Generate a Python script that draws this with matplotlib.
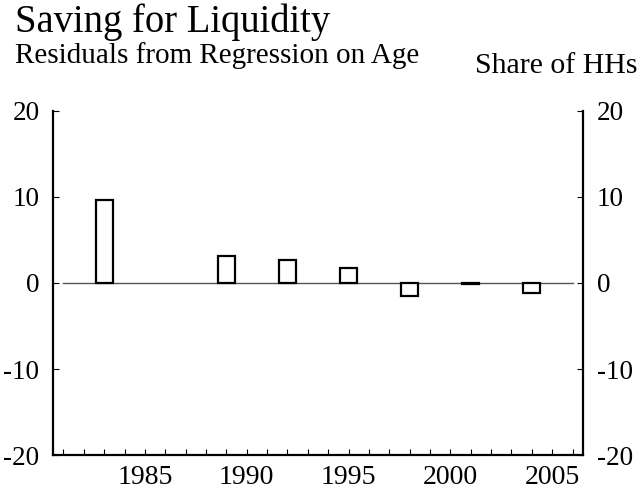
import matplotlib
matplotlib.use('Agg')
import matplotlib.pyplot as plt
from matplotlib.ticker import MultipleLocator

plt.rcParams['font.family'] = ['Liberation Serif', 'DejaVu Serif']

# Residuals by survey year
years = [1983, 1989, 1992, 1995, 1998, 2001, 2004]
resid = [9.6, 3.1, 2.7, 1.7, -1.5, -0.15, -1.2]
yticks = [-20, -10, 0, 10, 20]
xticks = [1985, 1990, 1995, 2000, 2005]

fig = plt.figure(figsize=(6.42, 4.91), dpi=100)
ax = fig.add_axes([0.083, 0.073, 0.8247, 0.7015])

ax.bar(years, resid, width=0.82, facecolor='white', edgecolor='black', linewidth=1.6, zorder=3)
ax.plot([1981, 2006], [0, 0], color='#555555', linewidth=1.0, zorder=2)

ax.set_xlim(1980.5, 2006.5)
ax.set_ylim(-20, 20)
ax.set_xticks(xticks)
ax.xaxis.set_minor_locator(MultipleLocator(1))
ax.set_yticks(yticks)
ax.set_yticklabels([str(v) for v in yticks])

for s in ['left', 'right', 'bottom']:
    ax.spines[s].set_linewidth(1.6)
ax.spines['top'].set_visible(False)

ax.tick_params(axis='x', which='both', direction='in', length=4, width=0.8, labelsize=20, pad=7)
ax.tick_params(axis='y', direction='in', length=4, width=0.8, labelsize=19.5, pad=10,
               right=True, labelright=True)

fig.text(0.023, 0.935, 'Saving for Liquidity', fontsize=27.8, ha='left', va='baseline')
fig.text(0.023, 0.872, 'Residuals from Regression on Age', fontsize=21, ha='left', va='baseline')
fig.text(0.993, 0.852, 'Share of HHs', fontsize=21.5, ha='right', va='baseline')

fig.savefig('out.png', dpi=100)
